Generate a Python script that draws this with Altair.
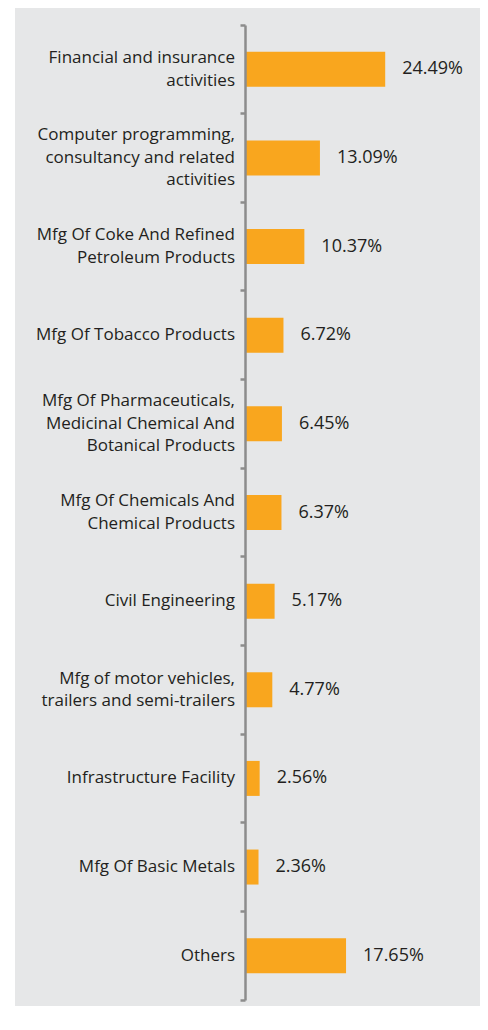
import altair as alt
import pandas as pd

categories = [
    "Financial and insurance\nactivities",
    "Computer programming,\nconsultancy and related\nactivities",
    "Mfg Of Coke And Refined\nPetroleum Products",
    "Mfg Of Tobacco Products",
    "Mfg Of Pharmaceuticals,\nMedicinal Chemical And\nBotanical Products",
    "Mfg Of Chemicals And\nChemical Products",
    "Civil Engineering",
    "Mfg of motor vehicles,\ntrailers and semi-trailers",
    "Infrastructure Facility",
    "Mfg Of Basic Metals",
    "Others",
]
values = [24.49, 13.09, 10.37, 6.72, 6.45, 6.37, 5.17, 4.77, 2.56, 2.36, 17.65]

BG = "#e6e7e8"
BAR = "#f9a61e"
AXIS = "#8c8c8c"
TEXT = "#231f20"
FONT = "Open Sans"
LH = 22.5

W, H = 229, 975
PAD_L, PAD_T, PAD_R, PAD_B = 237, 17, 6, 6
HALF_STEP = H / len(categories) / 2

df = pd.DataFrame({"category": categories, "value": values})

y_axis = alt.Y(
    "category:N",
    sort=categories,
    scale=alt.Scale(paddingInner=0, paddingOuter=0),
    axis=alt.Axis(
        title=None,
        labels=False,
        bandPosition=1,
        tickExtra=True,
        domainColor=AXIS,
        domainWidth=2.5,
        tickColor=AXIS,
        tickWidth=2.5,
        tickSize=5,
        zindex=1,
    ),
)
y_plain = alt.Y("category:N", sort=categories)
x_enc = alt.X("value:Q", scale=alt.Scale(domain=[0, 40]), axis=None)

bg = alt.Chart(pd.DataFrame({"k": [0]})).mark_rect(color=BG).encode(
    x=alt.value(-(PAD_L - 7)),
    x2=alt.value(W + PAD_R),
    y=alt.value(-PAD_T),
    y2=alt.value(H + PAD_B),
)

base = alt.Chart(df)

bars = base.mark_bar(color=BAR, size=35).encode(x=x_enc, y=y_axis)

values_text = base.transform_calculate(
    lbl="format(datum.value, '.2f') + '%'"
).mark_text(
    align="left", baseline="middle", dx=17, font=FONT, fontSize=18, color=TEXT
).encode(x=x_enc, y=y_plain, text="lbl:N")

cat_text = base.transform_calculate(
    lines="split(datum.category, '\\n')"
).transform_calculate(
    off=f"{HALF_STEP} - (length(datum.lines) - 1) * {LH} / 2"
).mark_text(
    align="right", baseline="middle", font=FONT, fontSize=17, color=TEXT,
    lineHeight=LH,
).encode(
    x=alt.value(-10),
    y=y_plain,
    yOffset=alt.YOffset("off:Q", scale=None),
    text=alt.Text("lines:N"),
)

chart = alt.layer(bg, bars, values_text, cat_text).properties(
    width=W,
    height=H,
    padding={"left": PAD_L, "top": PAD_T, "right": PAD_R, "bottom": PAD_B},
    autosize=alt.AutoSizeParams(type="none"),
    background="white",
).configure_view(stroke=None)

chart.save("out.html", embed_options={"renderer": "svg", "actions": False})
